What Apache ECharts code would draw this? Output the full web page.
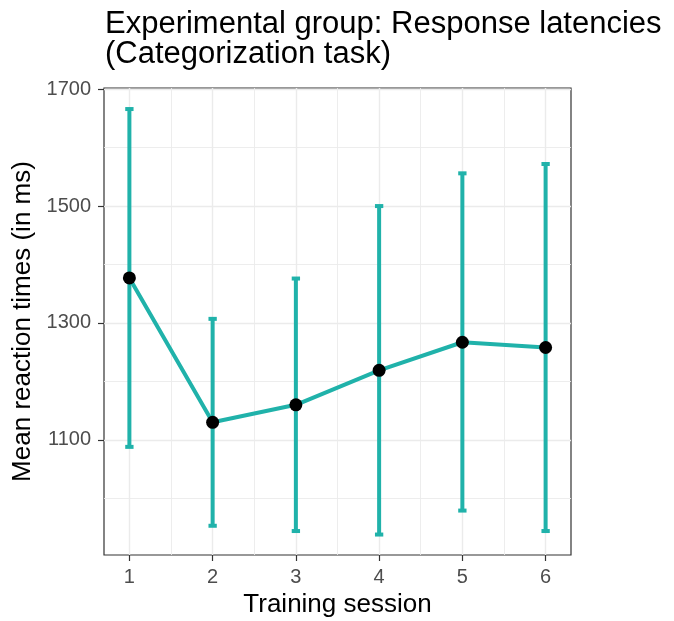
<!DOCTYPE html>
<html>
<head>
<meta charset="utf-8">
<script src="https://cdn.jsdelivr.net/npm/echarts@6/dist/echarts.min.js"></script>
<style>
  html, body { margin: 0; padding: 0; background: #fff; }
  #chart { width: 674px; height: 621px; }
</style>
</head>
<body>
<div id="chart"></div>
<script>
// Training sessions and mean response latencies (ms) with error bar bounds
const sessions = [1, 2, 3, 4, 5, 6];
const meanRT   = [1377, 1130, 1160, 1219, 1267, 1258];
const lowerRT  = [1088, 953, 944, 938, 979, 944];
const upperRT  = [1666, 1307, 1376, 1500, 1556, 1572];

// Axis ticks and grid lines
const xTicks = [1, 2, 3, 4, 5, 6];
const xMinorGrid = [1.5, 2.5, 3.5, 4.5, 5.5];
const yTicks = [1100, 1300, 1500, 1700];
const yMinorGrid = [1000, 1200, 1400, 1600];

const teal = '#20B2AA';
const gridColor = '#EBEBEB';

const chart = echarts.init(document.getElementById('chart'));

const gridLines = [];
xTicks.forEach(v => gridLines.push({ xAxis: v, lineStyle: { width: 1.4 } }));
xMinorGrid.forEach(v => gridLines.push({ xAxis: v, lineStyle: { width: 0.9 } }));
yTicks.forEach(v => gridLines.push({ yAxis: v, lineStyle: { width: 1.4 } }));
yMinorGrid.forEach(v => gridLines.push({ yAxis: v, lineStyle: { width: 0.9 } }));

const errData = sessions.map((s, i) => [s, lowerRT[i], upperRT[i]]);
const meanData = sessions.map((s, i) => [s, meanRT[i]]);

chart.setOption({
  animation: false,
  textStyle: { fontFamily: 'Liberation Sans, Arial, sans-serif' },
  title: {
    text: 'Experimental group: Response latencies\n(Categorization task)',
    left: 100,
    top: 4,
    textStyle: {
      fontSize: 31,
      fontWeight: 'normal',
      color: '#000',
      lineHeight: 30,
      fontFamily: 'Liberation Sans, Arial, sans-serif'
    }
  },
  grid: {
    left: 104, right: 103, top: 88, bottom: 66,
    outerBoundsMode: 'none',
    containLabel: false,
    show: true, borderColor: '#333333', borderWidth: 1.2,
    backgroundColor: 'transparent'
  },
  xAxis: {
    type: 'value',
    min: 0.695, max: 6.305,
    name: 'Training session',
    nameLocation: 'middle',
    nameGap: 37,
    nameTextStyle: { fontSize: 26, color: '#000' },
    axisLine: { show: false },
    axisTick: { show: true, length: 6, customValues: xTicks, lineStyle: { color: '#333', width: 1.2 } },
    axisLabel: { customValues: xTicks, fontSize: 20, color: '#4D4D4D', margin: 12 },
    splitLine: { show: false }
  },
  yAxis: {
    type: 'value',
    min: 903, max: 1702,
    name: 'Mean reaction times (in ms)',
    nameLocation: 'middle',
    nameGap: 55,
    nameTextStyle: { fontSize: 26, color: '#000' },
    axisLine: { show: false },
    axisTick: { show: true, length: 6, customValues: yTicks, lineStyle: { color: '#333', width: 1.2 } },
    axisLabel: {
      customValues: yTicks, fontSize: 20, color: '#4D4D4D', margin: 13,
      formatter: v => String(v)
    },
    splitLine: { show: false }
  },
  series: [
    {
      // panel grid lines
      type: 'scatter',
      data: [],
      z: 0,
      silent: true,
      markLine: {
        z: 0,
        silent: true,
        symbol: ['none', 'none'],
        label: { show: false },
        lineStyle: { color: gridColor, type: 'solid' },
        data: gridLines
      }
    },
    {
      // error bars with caps
      type: 'custom',
      z: 2,
      data: errData,
      encode: { x: 0, y: [1, 2] },
      renderItem: function (params, api) {
        const x = api.value(0);
        const lo = api.coord([x, api.value(1)]);
        const hi = api.coord([x, api.value(2)]);
        const half = api.size([0.1, 0])[0] / 2;
        const style = { stroke: teal, lineWidth: 4, lineCap: 'butt' };
        return {
          type: 'group',
          children: [
            { type: 'line', shape: { x1: lo[0], y1: lo[1], x2: hi[0], y2: hi[1] }, style: style },
            { type: 'line', shape: { x1: lo[0] - half, y1: lo[1], x2: lo[0] + half, y2: lo[1] }, style: style },
            { type: 'line', shape: { x1: hi[0] - half, y1: hi[1], x2: hi[0] + half, y2: hi[1] }, style: style }
          ]
        };
      }
    },
    {
      // mean line
      type: 'line',
      z: 3,
      data: meanData,
      symbol: 'none',
      lineStyle: { color: teal, width: 4 }
    },
    {
      // mean points
      type: 'scatter',
      z: 4,
      data: meanData,
      symbol: 'circle',
      symbolSize: 13,
      itemStyle: { color: '#000', opacity: 1 }
    }
  ]
});
</script>
</body>
</html>
